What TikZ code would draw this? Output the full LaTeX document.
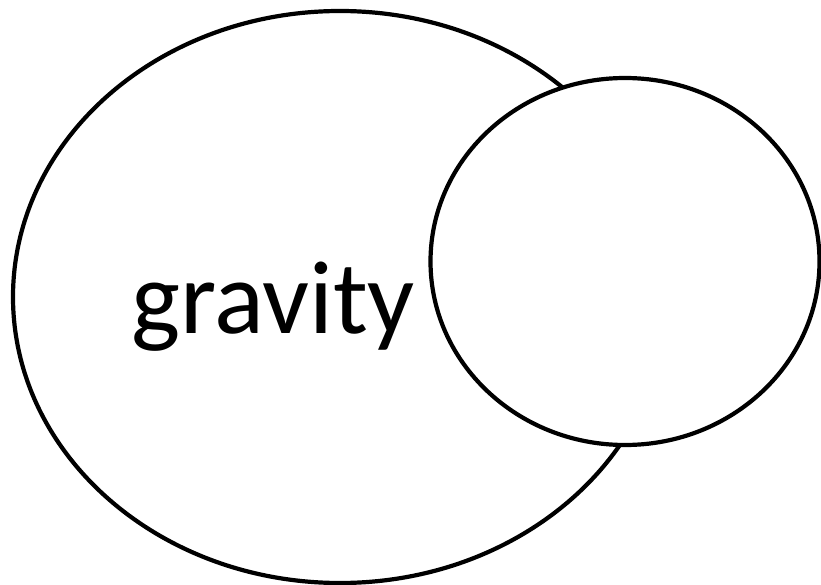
\documentclass[tikz,border=0pt]{standalone}
\usepackage{fontspec}
\setmainfont{Carlito}
\usetikzlibrary{shapes.geometric}
\tikzset{
  blob/.style={
    draw,
    ellipse,
    line width=4.2pt,
    inner sep=0pt,
  },
  bigblob/.style={
    blob,
    minimum width=654pt,
    minimum height=572pt,
  },
  smallblob/.style={
    blob,
    fill=white,
    minimum width=389pt,
    minimum height=367pt,
  },
  blobtext/.style={
    anchor=base,
    inner sep=0pt,
    font=\fontsize{104}{110}\selectfont,
  }
}

\begin{document}
\begin{tikzpicture}[x=1pt,y=-1pt]

\useasboundingbox (0,0) rectangle (821,585);

\node[bigblob] (big) at (340,297) {};
\node[blobtext] (gravity) at (273,333) {gravity};
\node[smallblob] (small) at (625,261.5) {};

\end{tikzpicture}
\end{document}
